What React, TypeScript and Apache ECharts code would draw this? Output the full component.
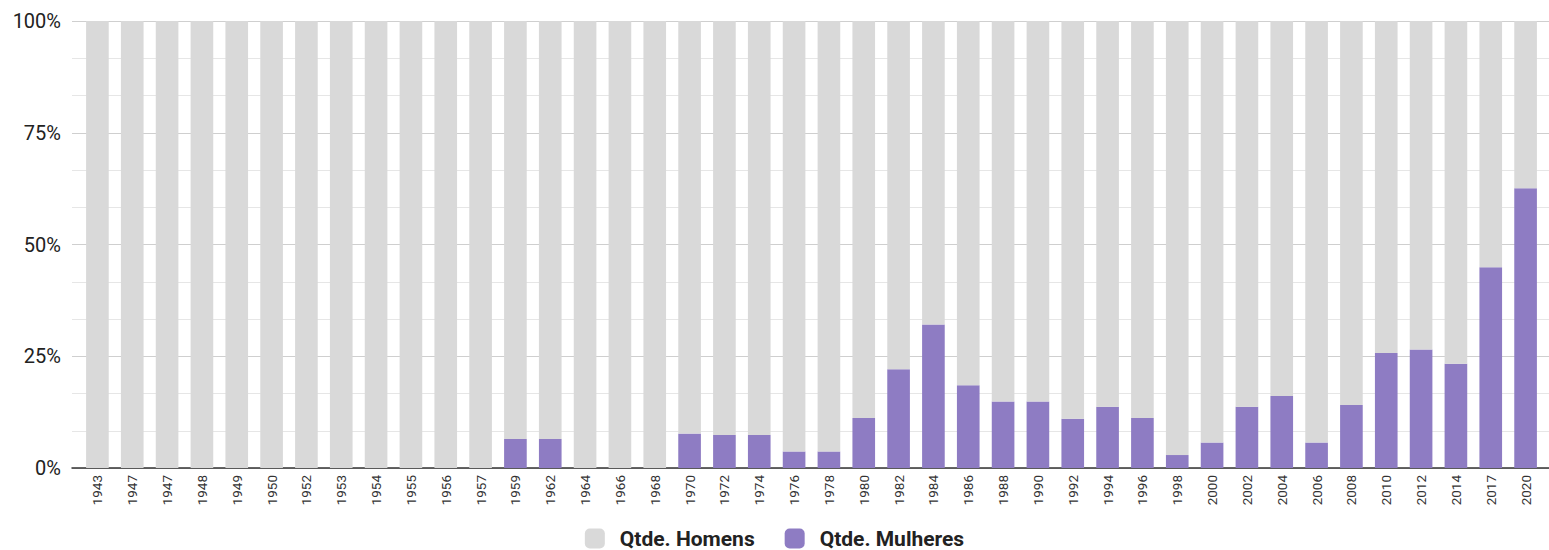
import React, { useEffect, useRef } from "react";
import * as echarts from "echarts";

const categories = [
  "1943", "1947", "1947", "1948", "1949", "1950", "1952", "1953", "1954", "1955",
  "1956", "1957", "1959", "1962", "1964", "1966", "1968", "1970", "1972", "1974",
  "1976", "1978", "1980", "1982", "1984", "1986", "1988", "1990", "1992", "1994",
  "1996", "1998", "2000", "2002", "2004", "2006", "2008", "2010", "2012", "2014",
  "2017", "2020",
];

const mulheres = [
  0, 0, 0, 0, 0, 0, 0, 0, 0, 0,
  0, 0, 6.5, 6.5, 0, 0, 0, 7.7, 7.4, 7.4,
  3.7, 3.7, 11.2, 22.1, 32.1, 18.5, 14.9, 14.9, 11.0, 13.7,
  11.2, 2.9, 5.7, 13.7, 16.1, 5.7, 14.1, 25.7, 26.5, 23.3,
  44.9, 62.6,
];

const homens = mulheres.map((v) => +(100 - v).toFixed(2));

const yTicks = [0, 25, 50, 75, 100];

export default function App() {
  const ref = useRef<HTMLDivElement>(null);
  useEffect(() => {
    document.body.style.margin = "0";
    if (!ref.current) return;
    const chart = echarts.init(ref.current, undefined, { renderer: "svg" });
    chart.setOption({
      animation: false,
      textStyle: { fontFamily: "Roboto" },
      legend: {
        left: "center",
        top: 528,
        padding: 0,
        itemWidth: 20,
        itemHeight: 20,
        itemGap: 30,
        icon: "roundRect",
        textStyle: { fontSize: 21, fontWeight: "bold", color: "#222", padding: [0, 0, 0, 10] },
        data: ["Qtde. Homens", "Qtde. Mulheres"],
      },
      grid: [
        { left: 72, right: 0, top: 21, bottom: 82 },
        { left: 80, right: 6, top: 21, bottom: 82 },
      ],
      xAxis: [
        {
          type: "value",
          gridIndex: 0,
          min: 0,
          max: 1,
          axisLine: { show: true, lineStyle: { color: "#333", width: 1.5 } },
          axisTick: { show: false },
          axisLabel: { show: false },
          splitLine: { show: false },
        },
        {
          type: "category",
          gridIndex: 1,
          data: categories,
          axisLine: { show: false },
          axisTick: { show: false },
          axisLabel: {
            rotate: 90,
            interval: 0,
            fontSize: 13.5,
            color: "#333",
            margin: 7,
          },
        },
      ],
      yAxis: [
        {
          type: "value",
          gridIndex: 0,
          min: yTicks[0],
          max: yTicks[yTicks.length - 1],
          interval: 25,
          axisLine: { show: false },
          axisTick: { show: false },
          axisLabel: { formatter: "{value}%", fontSize: 20, color: "#222", margin: 11 },
          splitLine: { show: true, lineStyle: { color: "#cfcfcf", width: 1 } },
          minorTick: { show: false, splitNumber: 3 },
          minorSplitLine: { show: true, lineStyle: { color: "#e6e6e6", width: 1 } },
        },
        {
          type: "value",
          gridIndex: 1,
          min: 0,
          max: 100,
          show: false,
          splitLine: { show: false },
        },
      ],
      series: [
        {
          name: "Qtde. Mulheres",
          type: "bar",
          stack: "total",
          xAxisIndex: 1,
          yAxisIndex: 1,
          data: mulheres,
          barCategoryGap: "35%",
          itemStyle: { color: "#8e7cc3" },
          z: 1,
        },
        {
          name: "Qtde. Homens",
          type: "bar",
          stack: "total",
          xAxisIndex: 1,
          yAxisIndex: 1,
          data: homens,
          barCategoryGap: "35%",
          itemStyle: { color: "#d9d9d9" },
          z: 1,
        },
      ],
    });
    return () => chart.dispose();
  }, []);
  return <div ref={ref} style={{ width: 1549, height: 550 }} />;
}
